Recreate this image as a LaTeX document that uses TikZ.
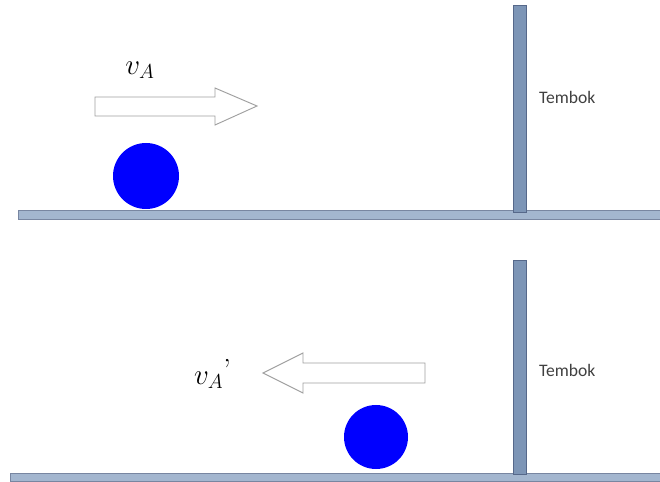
\documentclass[tikz,border=0pt]{standalone}
\usepackage{fontspec}
\setsansfont{Carlito}
\definecolor{WallFill}{HTML}{7D95B6}
\definecolor{WallEdge}{HTML}{56688A}
\definecolor{FloorFill}{HTML}{A3B6CF}
\definecolor{ArrowLine}{HTML}{A0A0A0}
\definecolor{LabelGray}{HTML}{404040}
\tikzset{
  wallbar/.style={draw=WallEdge,fill=WallFill,line width=0.6pt},
  floorbar/.style={draw=WallEdge!80,fill=FloorFill,line width=0.6pt},
  ballfill/.style={fill=blue,draw=none},
  flowarrow/.style={draw=ArrowLine,fill=white,line width=0.8pt,line join=miter},
  walllabel/.style={font=\sffamily\fontsize{15}{17}\selectfont,text=LabelGray,anchor=west},
  speedlabel/.style={font=\fontsize{24}{28}\selectfont}
}
\begin{document}
\begin{tikzpicture}[x=0.03cm,y=-0.03cm]
  \useasboundingbox (0,0) rectangle (660,482);
  % upper scene: ball moving towards the wall
  \draw[floorbar] (18,210) rectangle (660,219);
  \draw[wallbar] (513,5) rectangle (526,212);
  \node[walllabel] (walltop) at (535,97) {Tembok};
  \fill[ballfill] (146,176) circle (33);
  \draw[flowarrow] (95,97) -- (215,97) -- (215,88) -- (257,106)
    -- (215,125) -- (215,116) -- (95,116) -- cycle;
  \node[speedlabel] (vtop) at (140,70) {$v_A$};
  % lower scene: ball bouncing back
  \draw[floorbar] (10,473) rectangle (660,481);
  \draw[wallbar] (513,260) rectangle (526,474);
  \node[walllabel] (wallbot) at (535,370) {Tembok};
  \fill[ballfill] (376,437) circle (32);
  \draw[flowarrow] (425,363) -- (303,363) -- (303,353) -- (263,373)
    -- (303,393) -- (303,383) -- (425,383) -- cycle;
  \node[speedlabel,anchor=west] (vbot) at (190,374) {$v_A$\raisebox{3pt}{\fontsize{26}{28}\selectfont ’}};
\end{tikzpicture}
\end{document}
